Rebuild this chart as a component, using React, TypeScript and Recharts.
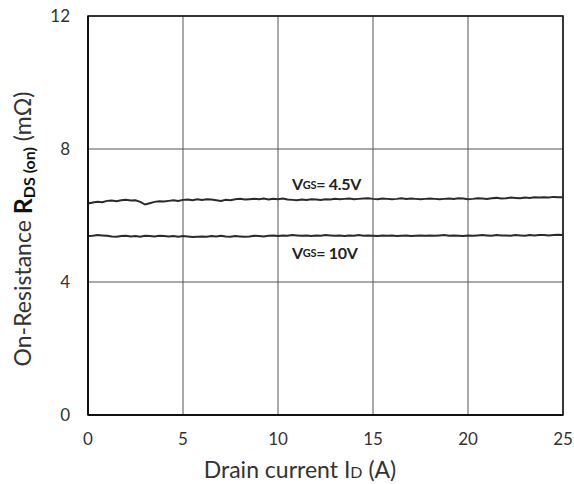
import React from "react";
import {
  CartesianGrid,
  Label,
  Line,
  LineChart,
  ReferenceArea,
  ReferenceDot,
  XAxis,
  YAxis,
} from "recharts";

// drain current steps (A)
const currents = [
  0, 0.25, 0.5, 0.75, 1, 1.25, 1.5, 1.75, 2, 2.25, 2.5, 2.75,
  3, 3.25, 3.5, 3.75, 4, 4.25, 4.5, 4.75, 5, 5.25, 5.5, 5.75,
  6, 6.25, 6.5, 6.75, 7, 7.25, 7.5, 7.75, 8, 8.25, 8.5, 8.75,
  9, 9.25, 9.5, 9.75, 10, 10.25, 10.5, 10.75, 11, 11.25, 11.5, 11.75,
  12, 12.25, 12.5, 12.75, 13, 13.25, 13.5, 13.75, 14, 14.25, 14.5, 14.75,
  15, 15.25, 15.5, 15.75, 16, 16.25, 16.5, 16.75, 17, 17.25, 17.5, 17.75,
  18, 18.25, 18.5, 18.75, 19, 19.25, 19.5, 19.75, 20, 20.25, 20.5, 20.75,
  21, 21.25, 21.5, 21.75, 22, 22.25, 22.5, 22.75, 23, 23.25, 23.5, 23.75,
  24, 24.25, 24.5, 24.75, 25,
];

// RDS(on) at VGS = 4.5V (mOhm)
const rdsVgs45 = [
  6.36, 6.39, 6.41, 6.4, 6.44, 6.45, 6.43, 6.46, 6.47, 6.45, 6.46, 6.41,
  6.33, 6.37, 6.41, 6.43, 6.42, 6.44, 6.46, 6.44, 6.47, 6.48, 6.46, 6.49,
  6.47, 6.49, 6.48, 6.46, 6.44, 6.47, 6.46, 6.49, 6.5, 6.48, 6.49, 6.5,
  6.49, 6.51, 6.48, 6.5, 6.49, 6.51, 6.48, 6.47, 6.46, 6.48, 6.47, 6.49,
  6.48, 6.47, 6.49, 6.48, 6.5, 6.49, 6.5, 6.51, 6.49, 6.5, 6.51, 6.52,
  6.5, 6.49, 6.51, 6.5, 6.49, 6.5, 6.52, 6.5, 6.51, 6.5, 6.49, 6.5,
  6.51, 6.5, 6.49, 6.5, 6.51, 6.5, 6.52, 6.51, 6.49, 6.5, 6.52, 6.51,
  6.5, 6.52, 6.53, 6.51, 6.52, 6.54, 6.53, 6.52, 6.54, 6.53, 6.55, 6.54,
  6.55, 6.54, 6.56, 6.55, 6.55,
];

// RDS(on) at VGS = 10V (mOhm)
const rdsVgs10 = [
  5.38, 5.39, 5.41, 5.4, 5.39, 5.37, 5.36, 5.38, 5.39, 5.37, 5.38, 5.36,
  5.39, 5.38, 5.37, 5.39, 5.38, 5.37, 5.38, 5.36, 5.38, 5.37, 5.35, 5.36,
  5.37, 5.36, 5.38, 5.37, 5.39, 5.37, 5.36, 5.38, 5.37, 5.36, 5.37, 5.39,
  5.38, 5.37, 5.39, 5.4, 5.38, 5.4, 5.39, 5.41, 5.4, 5.39, 5.4, 5.38,
  5.4, 5.39, 5.41, 5.4, 5.39, 5.4, 5.38, 5.4, 5.39, 5.41, 5.39, 5.4,
  5.39, 5.38, 5.4, 5.39, 5.4, 5.38, 5.39, 5.4, 5.38, 5.39, 5.4, 5.39,
  5.4, 5.39, 5.4, 5.41, 5.39, 5.4, 5.39, 5.38, 5.4, 5.39, 5.4, 5.41,
  5.4, 5.39, 5.41, 5.4, 5.4, 5.39, 5.41, 5.4, 5.39, 5.41, 5.4, 5.41,
  5.41, 5.4, 5.41, 5.42, 5.41,
];

const xTicks = [0, 5, 10, 15, 20, 25];
const yTicks = [0, 4, 8, 12];

const data = currents.map((id, i) => ({
  id,
  v45: rdsVgs45[i],
  v10: rdsVgs10[i],
}));

const FONT = "Lato, 'Open Sans', sans-serif";

function YTitle({ viewBox }: any) {
  const cx = 22;
  const cy = 229;
  return (
    <text
      x={cx}
      y={cy}
      transform={`rotate(-90 ${cx} ${cy})`}
      textAnchor="middle"
      dominantBaseline="central"
      fontFamily={FONT}
      fontSize={23}
      fill="#333"
    >
      On-Resistance{" "}
      <tspan fontWeight={700} fontSize={25} fill="#111">
        R
      </tspan>
      <tspan fontWeight={700} fontSize={16} dy={6} fill="#111">
        DS (on)
      </tspan>
      <tspan dy={-6}> (mΩ)</tspan>
    </text>
  );
}

function XTitle({ viewBox }: any) {
  return (
    <text
      x={300}
      y={478}
      textAnchor="middle"
      fontFamily={FONT}
      fontSize={23}
      fill="#333"
    >
      Drain current I<tspan fontSize={16}>D</tspan> (A)
    </text>
  );
}

function vgsLabel(text: string) {
  return ({ viewBox }: any) => (
    <text
      x={viewBox.x}
      y={viewBox.y}
      dominantBaseline="central"
      fontFamily={FONT}
      fontWeight={700}
      fontSize={16}
      letterSpacing={-0.3}
      fill="#222"
    >
      V<tspan fontSize={11}>GS</tspan>= {text}
    </text>
  );
}

export default function App() {
  return (
    <div style={{ position: "absolute", left: 0, top: 0, background: "#fff" }}>
      <LineChart
        width={574}
        height={484}
        data={data}
        margin={{ top: 16, right: 11, bottom: 39, left: 0 }}
      >
        <CartesianGrid stroke="#555" strokeWidth={1} />
        <XAxis
          dataKey="id"
          type="number"
          domain={[0, 25]}
          ticks={xTicks}
          height={30}
          tickLine={false}
          tickSize={0}
          tickMargin={18}
          axisLine={{ stroke: "#111", strokeWidth: 2 }}
          tick={{ fontFamily: FONT, fontSize: 17, fill: "#333" }}
          interval={0}
        >
          <Label content={<XTitle />} />
        </XAxis>
        <YAxis
          type="number"
          domain={[0, 12]}
          ticks={yTicks}
          width={88}
          tickLine={false}
          tickSize={0}
          tickMargin={18}
          axisLine={{ stroke: "#111", strokeWidth: 2 }}
          tick={{ fontFamily: FONT, fontSize: 17, fill: "#333" }}
          interval={0}
        >
          <Label content={<YTitle />} />
        </YAxis>
        <ReferenceArea
          x1={0}
          x2={25}
          y1={0}
          y2={12}
          fill="none"
          stroke="#111"
          strokeWidth={1.5}
          ifOverflow="visible"
        />
        <Line
          dataKey="v45"
          stroke="#2a2a2a"
          strokeWidth={2}
          dot={false}
          isAnimationActive={false}
        />
        <Line
          dataKey="v10"
          stroke="#2a2a2a"
          strokeWidth={2}
          dot={false}
          isAnimationActive={false}
        />
        <ReferenceDot x={10.74} y={6.95} r={0} ifOverflow="visible" label={vgsLabel("4.5V")} />
        <ReferenceDot x={10.74} y={4.9} r={0} ifOverflow="visible" label={vgsLabel("10V")} />
      </LineChart>
    </div>
  );
}
